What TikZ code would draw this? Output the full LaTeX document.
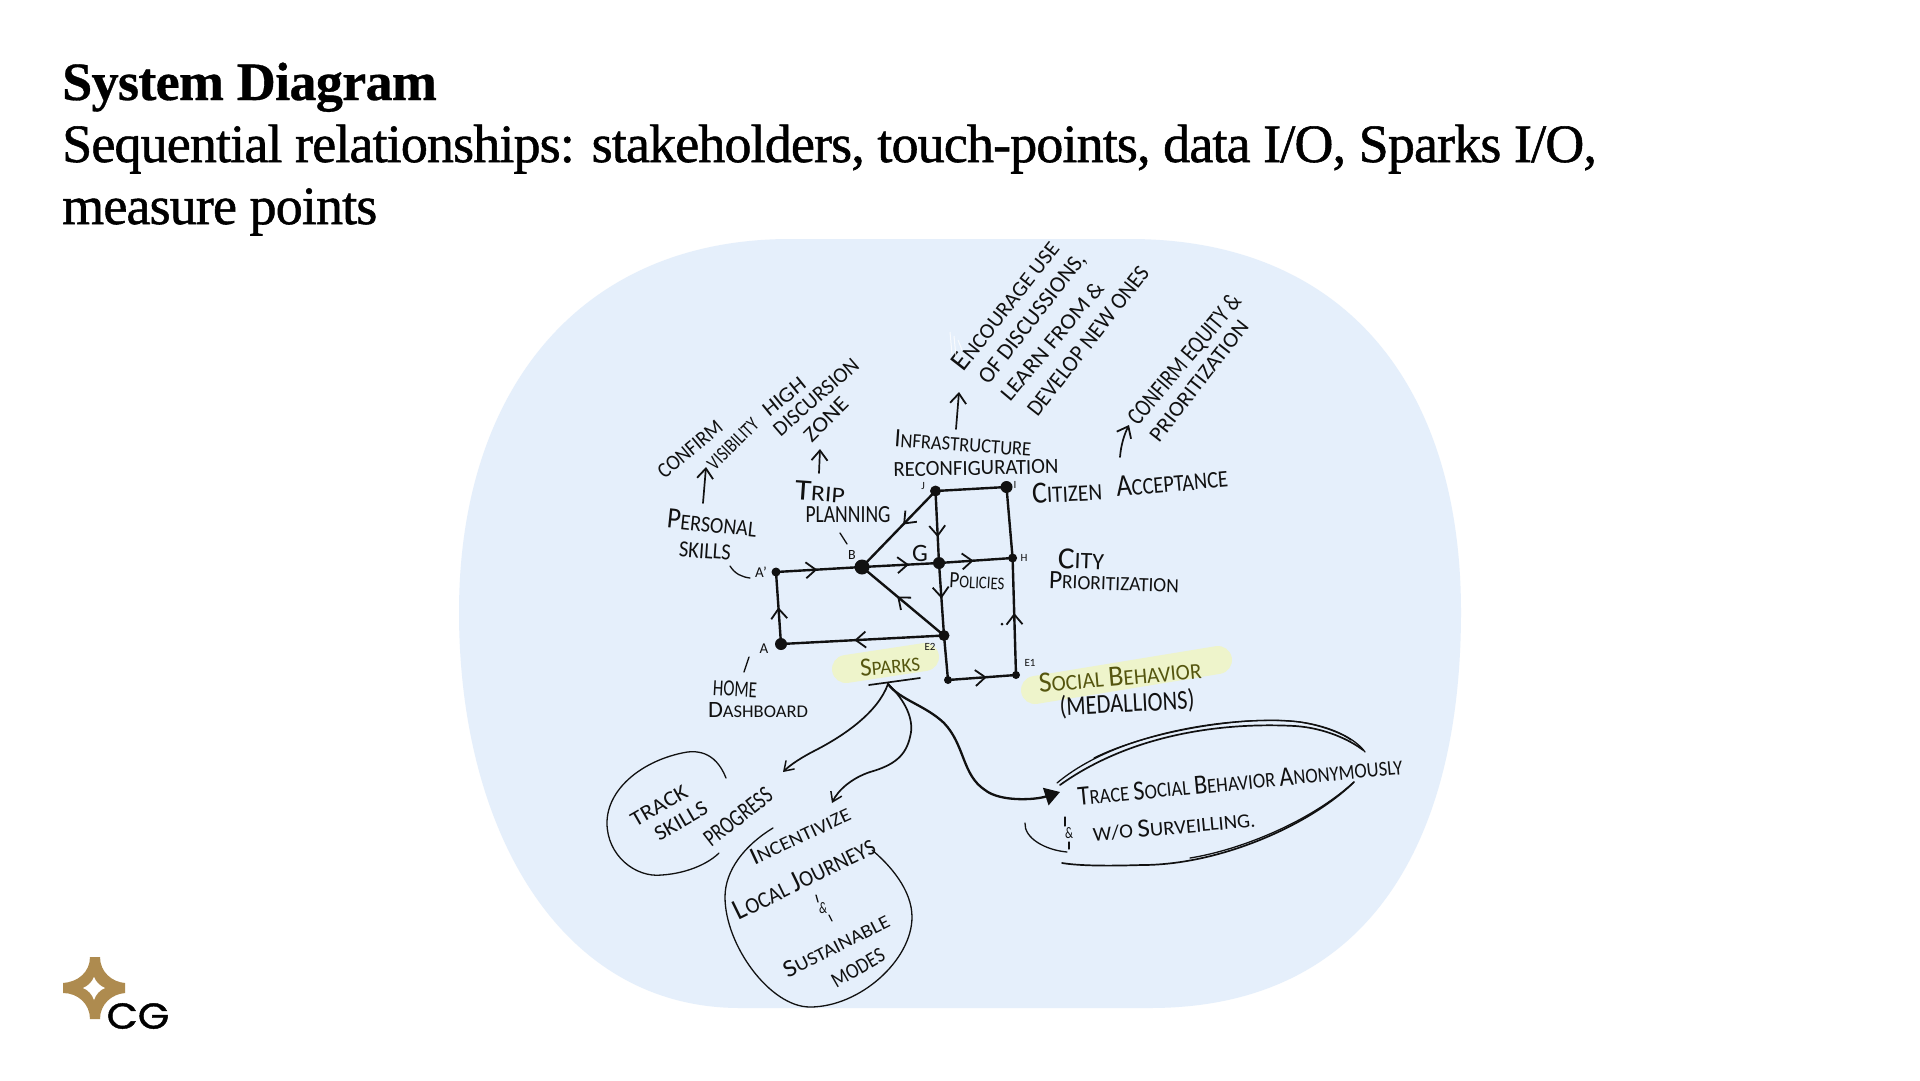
\documentclass[tikz,border=0pt]{standalone}
\usepackage{fontspec}
\usepackage{graphicx}
\usetikzlibrary{arrows.meta,decorations.markings}
\setmainfont{Carlito}
\newfontfamily\titlefont[LetterSpace=-1.6,FakeBold=1]{Liberation Serif}
\newfontfamily\titlebold[LetterSpace=-1.2,FakeBold=0.6]{Liberation Serif}
\newfontfamily\logofont[FakeBold=1.2]{Poppins}
\definecolor{blobblue}{HTML}{E5EFFB}
\definecolor{hilite}{HTML}{EEF4CB}
\definecolor{olive}{HTML}{55560F}
\definecolor{inkdark}{HTML}{111111}
\definecolor{gold}{HTML}{AE8B4F}
\newcommand{\C}[1]{{\fontsize{17}{17}\selectfont #1}}
% name, x y, angle, width, height, text
\newcommand{\hw}[6]{\node[handtext,rotate=#3] (#1) at (#2) {\resizebox{#4pt}{#5pt}{\fontsize{13}{13}\selectfont #6}};}
\newcommand{\hwo}[6]{\node[handtext,text=olive,rotate=#3] (#1) at (#2) {\resizebox{#4pt}{#5pt}{\fontsize{13}{13}\selectfont #6}};}
\tikzset{
  handtext/.style={inner sep=0pt,outer sep=0pt,text=inkdark},
  thickink/.style={draw=inkdark,line width=2.4pt,line cap=round},
  thinink/.style={draw=inkdark,line width=1.3pt,line cap=round},
  penink/.style={draw=inkdark,line width=1.7pt,line cap=round},
  midtip/.style={postaction={decorate},decoration={markings,mark=at position #1 with {\arrow{Straight Barb[length=10pt,width=16pt,line width=1.8pt]}}}},
  upshot/.style={penink,-{Straight Barb[length=10pt,width=16pt,line width=1.8pt]}},
  dotmark/.style={circle,fill=inkdark,inner sep=0pt,minimum size=#1},
  tinylabel/.style={inner sep=0pt,text=inkdark,font=\fontsize{11}{11}\selectfont},
  headline/.style={anchor=base west,inner sep=0pt,text=black},
}
\begin{document}
\begin{tikzpicture}[x=1pt,y=-1pt]
\useasboundingbox (0,0) rectangle (1920,1080);
\fill[white] (0,0) rectangle (1920,1080);
% blue blob
\fill[blobblue] (459,612) .. controls (459,390) and (580,239) .. (790,239) -- (1130,239)
  .. controls (1340,239) and (1461,380) .. (1461,612)
  .. controls (1461,840) and (1370,1008) .. (1150,1008) -- (740,1008)
  .. controls (560,1008) and (459,830) .. (459,612) -- cycle;
% titles
\node[headline,font=\titlebold\bfseries\fontsize{54}{54}\selectfont] (title) at (62,100) {System Diagram};
\node[headline,font=\titlefont\fontsize{54}{54}\selectfont] (sub1) at (62,162) {Sequential relationships: stakeholders, touch-points, data I/O, Sparks I/O,};
\node[headline,font=\titlefont\fontsize{54}{54}\selectfont] (sub2) at (62,224) {measure points};
% highlights
\draw[hilite,line width=28pt,line cap=round] (846,669) -- (925,657);
\draw[hilite,line width=28pt,line cap=round] (1035,690) -- (1218,660);
% junctions
\node[dotmark=11pt] (J) at (935.5,491) {};
\node[dotmark=12pt] (I) at (1006.5,487) {};
\node[dotmark=9pt] (H) at (1012.6,558) {};
\node[dotmark=12pt] (G) at (939,563) {};
\node[dotmark=15pt] (B) at (862,567) {};
\node[dotmark=9pt] (Ap) at (776,572) {};
\node[dotmark=12pt] (A) at (781,644) {};
\node[dotmark=11pt] (E2) at (944,635.5) {};
\node[dotmark=8pt] (F) at (948,680) {};
\node[dotmark=8pt] (E1) at (1016,675) {};
\node[dotmark=3pt] (speck) at (1002,624) {};
% network edges
\draw[thickink,midtip=0.48] (Ap.center) -- (B.center);
\draw[thickink,midtip=0.61] (B.center) -- (G.center);
\draw[thickink,midtip=0.47] (G.center) -- (H.center);
\draw[thickink] (J.center) -- (I.center);
\draw[thickink] (I.center) -- (H.center);
\draw[thickink,midtip=0.44] (J.center) -- (B.center);
\draw[thickink,midtip=0.64] (J.center) -- (G.center);
\draw[thickink,midtip=0.49] (G.center) -- (E2.center);
\draw[thickink,midtip=0.57] (E2.center) -- (B.center);
\draw[thickink,midtip=0.55] (E2.center) -- (A.center);
\draw[thickink,midtip=0.51] (A.center) -- (Ap.center);
\draw[thickink] (E2.center) -- (F.center);
\draw[thickink,midtip=0.57] (F.center) -- (E1.center);
\draw[thickink,midtip=0.53] (E1.center) -- (H.center);
% small labels
\node[tinylabel,font=\fontsize{15}{15}\selectfont] (lAp) at (761,572) {A'};
\node[tinylabel,font=\fontsize{14}{14}\selectfont] (lB) at (852,555) {B};
\node[tinylabel,font=\fontsize{25}{25}\selectfont] (lG) at (920,553) {G};
\node[tinylabel] (lJ) at (923,486) {J};
\node[tinylabel] (lI) at (1015,485) {I};
\node[tinylabel] (lH) at (1024,558) {H};
\node[tinylabel,font=\fontsize{15}{15}\selectfont] (lA) at (764,649) {A};
\node[tinylabel] (lE2) at (930,647) {E2};
\node[tinylabel] (lE1) at (1030,663) {E1};
% hand labels
\hw{tPersonal}{712,523}{-6}{90}{19}{\C{P}ERSONAL}
\hw{tSkills}{705,551}{-4}{52}{15}{SKILLS}
\hw{tHome}{735,689}{-3}{44}{15}{HOME}
\hw{tDash}{758,710}{0}{100}{15}{\C{D}ASHBOARD}
\hw{tTrip}{820,492}{-4}{50}{19}{\C{T}RIP}
\hw{tPlanning}{848,515}{0}{85}{16}{PLANNING}
\hw{tInfra}{963,443}{-4}{137}{17}{\C{I}NFRASTRUCTURE}
\hw{tReconf}{976,468}{1}{165}{14}{RECONFIGURATION}
\hw{tCitizen}{1067,492}{3}{70}{20}{\C{C}ITIZEN}
\hw{tAccept}{1172,482}{5}{112}{20}{\C{A}CCEPTANCE}
\hw{tCity}{1081,559}{-2}{46}{20}{\C{C}ITY}
\hw{tPrior}{1114,582}{-2}{130}{17}{\C{P}RIORITIZATION}
\hw{tPolicies}{977,581}{-3}{55}{15}{\C{P}OLICIES}
\hwo{tSparks}{890,665}{5}{60}{17}{\C{S}PARKS}
\hwo{tSocial}{1120,676}{5}{163}{19}{\C{S}OCIAL \C{B}EHAVIOR}
\hw{tMedal}{1127,704}{3}{135}{20}{(MEDALLIONS)}
% rotated upper labels
\hw{tConfirm}{690,449}{40}{78}{14}{CONFIRM}
\hw{tVisib}{733,444}{45}{64}{13}{VISIBILITY}
\hw{tHigh}{784,397}{39}{49}{14}{HIGH}
\hw{tDiscur}{816,397}{41}{106}{14}{DISCURSION}
\hw{tZone}{826,419}{45}{54}{14}{ZONE}
\hw{tEnc}{1005,305}{52}{157}{18}{\C{E}NCOURAGE USE}
\hw{tOf}{1033,319}{52}{160}{15}{OF DISCUSSIONS,}
\hw{tLearn}{1052,341}{50}{148}{15}{LEARN FROM \&}
\hw{tDevelop}{1088,341}{52}{183}{15}{DEVELOP NEW ONES}
\hw{tEquity}{1185,360}{50}{162}{17}{CONFIRM EQUITY \&}
\hw{tPrio2}{1199,381}{52}{147}{14}{PRIORITIZATION}
% lower labels
\hw{tTrack}{659,806}{30}{62}{14}{TRACK}
\hw{tSk2}{681,821}{30}{58}{14}{SKILLS}
\hw{tProg}{738,817}{38}{80}{16}{PROGRESS}
\hw{tInc}{800,835}{25}{108}{16}{\C{I}NCENTIVIZE}
\hw{tLocal}{804,878}{26}{154}{19}{\C{L}OCAL \C{J}OURNEYS}
\hw{tAmp}{823,908}{0}{8}{11}{\&}
\hw{tSust}{836,945}{27}{116}{16}{\C{S}USTAINABLE}
\hw{tModes}{858,968}{30}{58}{14}{MODES}
\hw{tTrace}{1240,781}{5.5}{326}{18}{\C{T}RACE \C{S}OCIAL \C{B}EHAVIOR \C{A}NONYMOUSLY}
\hw{tAmp2}{1069,833}{0}{8}{11}{\&}
\hw{tWo}{1174,826}{5}{163}{17}{W/O \C{S}URVEILLING.}
% free coordinates of the hand strokes
\coordinate (upA0) at (703,503); \coordinate (upA1) at (706,467);
\coordinate (upB0) at (819,473); \coordinate (upB1) at (820,449);
\coordinate (upC0) at (956,429); \coordinate (upC1) at (959,392);
\coordinate (upD0) at (1120,457); \coordinate (upD1) at (1129,425);
\draw[upshot] (upA0) -- (upA1);
\draw[upshot] (upB0) -- (upB1);
\draw[upshot] (upC0) -- (upC1);
\draw[upshot] (upD0) .. controls (1121,445) and (1124,435) .. (upD1);
% leaders
\draw[thinink] (730,566) .. controls (735,574) and (742,577) .. (750,578);
\draw[thinink] (840,533) -- (847,544);
\draw[thinink] (749,657) -- (744,672);
% sparks bar and branches
\coordinate (barL) at (869,685); \coordinate (barR) at (920,678);
\coordinate (root) at (888,684);
\coordinate (tipTrack) at (783,772);
\coordinate (tipInc) at (832,803);
\coordinate (tipTrace) at (1060,792);
\draw[penink] (barL) -- (barR);
\draw[penink,-{Straight Barb[length=9pt,width=12pt,line width=1.5pt]}] (root) .. controls (878,712) and (845,735) .. (816,750) .. controls (802,757) and (790,765) .. (tipTrack);
\draw[penink,-{Straight Barb[length=9pt,width=12pt,line width=1.5pt]}] (root) .. controls (905,700) and (915,720) .. (910,737) .. controls (906,755) and (895,765) .. (870,772) .. controls (852,778) and (838,790) .. (tipInc);
\draw[line width=2.3pt,draw=inkdark,line cap=round,-{Triangle[length=15pt,width=18pt]}] (root) .. controls (900,700) and (925,705) .. (944,723) .. controls (965,745) and (962,775) .. (985,790) .. controls (1000,802) and (1035,800) .. (tipTrace);
% track loop
\draw[thinink] (726,778) .. controls (715,750) and (695,750) .. (682,753) .. controls (640,762) and (607,790) .. (607,823) .. controls (607,855) and (635,878) .. (662,875) .. controls (690,873) and (710,862) .. (719,853);
% incentivize loop
\draw[thinink] (773,828) .. controls (745,845) and (725,870) .. (725,897) .. controls (725,945) and (770,1007) .. (810,1007) .. controls (860,1007) and (912,960) .. (912,917) .. controls (912,890) and (890,865) .. (872,850);
% trace loop
\draw[thinink] (1057,783) .. controls (1120,730) and (1240,715) .. (1300,722) .. controls (1330,726) and (1355,738) .. (1365,752);
\draw[penink] (1060,785) .. controls (1130,735) and (1220,722) .. (1295,726) .. controls (1325,728) and (1350,740) .. (1363,750);
\draw[thinink] (1094,758) .. controls (1150,730) and (1250,715) .. (1300,722) .. controls (1325,726) and (1345,735) .. (1351,740);
\draw[penink] (1354,782) .. controls (1310,825) and (1220,865) .. (1142,865) .. controls (1110,866) and (1080,866) .. (1062,863);
\draw[thinink] (1354,782) .. controls (1310,822) and (1240,850) .. (1190,858);
\draw[thinink] (1025,823) .. controls (1024,838) and (1045,850) .. (1067,852);
% ticks around the ampersands
\draw[thinink] (816,895) -- (818,902);
\draw[thinink] (829,915) -- (832,921);
\draw[thinink] (1065,817) -- (1065,826);
\draw[thinink] (1069,842) -- (1069,849);
% white scribble
\draw[white,line width=1pt,opacity=.8] (950,332) -- (952,354) (954,336) -- (956,357) (958,340) -- (962,350);
% logo
\fill[gold] (90,957) -- (100,957) .. controls (100,972) and (112,982) .. (125,983) -- (125,993)
  .. controls (112,994) and (100,1004) .. (100,1019) -- (90,1019)
  .. controls (90,1004) and (78,993) .. (63,993) -- (63,983)
  .. controls (78,982) and (90,972) .. (90,957) -- cycle;
\fill[white] (94,977) .. controls (96,982) and (100,986) .. (105,988) .. controls (100,990) and (96,994) .. (94,1000)
  .. controls (92,994) and (88,990) .. (83,988) .. controls (88,986) and (92,982) .. (94,977) -- cycle;
\node[inner sep=0pt,text=black,font=\logofont\fontsize{36}{36}\selectfont,xscale=1.12] (logoCG) at (138,1016) {CG};
\end{tikzpicture}
\end{document}
